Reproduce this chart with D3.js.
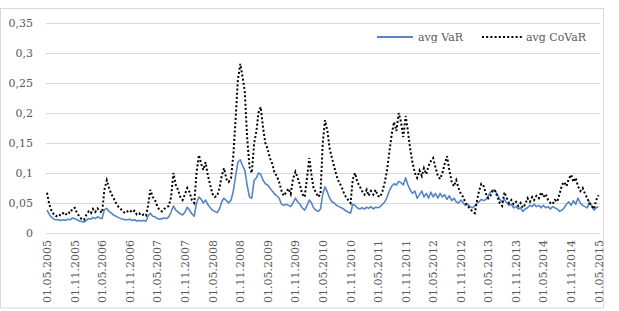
<!DOCTYPE html>
<html><head><meta charset="utf-8">
<script src="https://cdn.jsdelivr.net/npm/d3@7"></script>
<style>body{margin:0;background:#fff}svg{display:block}</style>
</head><body><svg id="c" width="619" height="311"></svg>
<script>
const startDate = "01.05.2005";
const yTicks = [0,0.05,0.1,0.15,0.2,0.25,0.3,0.35];
const xTickLabels = ["01.05.2005","01.11.2005","01.05.2006","01.11.2006","01.05.2007","01.11.2007","01.05.2008","01.11.2008","01.05.2009","01.11.2009","01.05.2010","01.11.2010","01.05.2011","01.11.2011","01.05.2012","01.11.2012","01.05.2013","01.11.2013","01.05.2014","01.11.2014","01.05.2015"];
const seriesNames = ["avg VaR","avg CoVaR"];
// semi-monthly observations
const avgCoVaR = [
.067,.048,.036,.031,.028,.031,.029,.033,.030,.035,.033,.040,
.042,.033,.028,.023,.022,.030,.036,.033,.040,.035,.041,.036,
.034,.072,.088,.075,.065,.058,.050,.044,.040,.036,.033,.036,
.038,.034,.037,.031,.033,.029,.031,.029,.045,.072,.060,.055,
.045,.038,.036,.040,.043,.045,.060,.100,.080,.072,.060,.055,
.065,.075,.068,.055,.050,.100,.130,.115,.105,.118,.095,.080,
.065,.060,.062,.075,.095,.108,.090,.085,.092,.130,.190,.255,
.282,.260,.235,.160,.110,.100,.150,.170,.200,.210,.175,.150,
.140,.125,.115,.100,.095,.085,.070,.062,.068,.074,.065,.090,
.102,.092,.080,.065,.060,.090,.125,.095,.075,.068,.060,.065,
.150,.188,.170,.140,.125,.110,.095,.085,.078,.068,.060,.055,
.050,.090,.100,.085,.078,.070,.064,.072,.062,.070,.064,.072,
.062,.060,.070,.085,.105,.135,.165,.185,.170,.200,.185,.160,
.195,.170,.140,.118,.100,.092,.104,.095,.108,.098,.112,.120,
.125,.110,.095,.090,.100,.115,.128,.105,.085,.078,.088,.075,
.065,.060,.050,.045,.040,.036,.033,.055,.070,.082,.078,.065,
.058,.062,.072,.070,.060,.050,.045,.068,.058,.050,.055,.048,
.052,.045,.050,.042,.048,.058,.052,.060,.055,.062,.058,.068,
.060,.065,.055,.050,.048,.055,.052,.065,.080,.085,.078,.090,
.097,.085,.092,.078,.070,.075,.065,.058,.050,.045,.040,.055,
.063];
const avgVaR = [
.038,.031,.026,.023,.022,.022,.021,.022,.021,.023,.022,.025,
.024,.022,.020,.019,.018,.021,.024,.023,.026,.024,.027,.025,
.024,.039,.041,.036,.033,.030,.028,.026,.024,.023,.022,.022,
.023,.021,.022,.020,.021,.020,.021,.020,.028,.033,.028,.027,
.024,.023,.024,.025,.024,.027,.035,.045,.038,.035,.032,.030,
.035,.043,.038,.032,.028,.050,.060,.056,.050,.055,.047,.042,
.038,.036,.034,.040,.052,.058,.054,.050,.055,.070,.095,.118,
.122,.112,.105,.080,.060,.058,.088,.092,.100,.098,.088,.082,
.080,.075,.070,.065,.062,.058,.048,.046,.048,.046,.044,.050,
.058,.052,.048,.042,.038,.045,.055,.050,.042,.038,.036,.040,
.065,.077,.068,.058,.052,.050,.046,.044,.042,.040,.037,.035,
.033,.048,.046,.042,.040,.042,.040,.043,.041,.044,.040,.043,
.042,.044,.048,.052,.060,.070,.078,.082,.080,.086,.084,.080,
.092,.080,.072,.066,.070,.058,.064,.070,.060,.066,.058,.068,
.060,.066,.058,.066,.060,.064,.056,.062,.054,.058,.052,.050,
.055,.050,.046,.048,.044,.042,.045,.050,.052,.056,.054,.056,
.062,.068,.072,.070,.064,.056,.052,.056,.050,.046,.048,.042,
.044,.040,.042,.036,.040,.042,.046,.044,.048,.044,.046,.042,
.046,.042,.044,.040,.044,.042,.040,.036,.038,.042,.048,.052,
.046,.054,.048,.058,.050,.046,.044,.042,.052,.046,.038,.042,
.044];

const parse = d3.timeParse("%d.%m.%Y");
const t0 = parse(startDate);
const dates = avgVaR.map((d,i)=> d3.timeDay.offset(d3.timeMonth.offset(t0, Math.floor(i/2)), (i%2)*15));

const svg = d3.select("#c");
const x = d3.scaleTime().domain([t0, parse(xTickLabels[xTickLabels.length-1])]).range([47, 598.5]);
const y = d3.scaleLinear().domain([0,0.35]).range([233,23]);
const fmt = v => d3.format("")(+v.toFixed(2)).replace(".",",");
const font = "DejaVu Serif";

svg.append("rect").attr("x",0.5).attr("y",8.5).attr("width",603).attr("height",299.5)
  .attr("fill","#fff").attr("stroke","#d9d9d9");

svg.append("g").selectAll("line").data(yTicks).join("line")
  .attr("x1",46).attr("x2",600).attr("y1",d=>Math.round(y(d))+0.5).attr("y2",d=>Math.round(y(d))+0.5)
  .attr("stroke","#d9d9d9").attr("stroke-width",1);

svg.append("g").selectAll("text").data(yTicks).join("text")
  .attr("x",33).attr("y",d=>y(d)+4).attr("text-anchor","end")
  .attr("font-family",font).attr("font-size",11).attr("fill","#595959").text(fmt);

svg.append("g").selectAll("text").data(xTickLabels).join("text")
  .attr("transform",d=>`translate(${x(parse(d))+4},240) rotate(-90)`)
  .attr("text-anchor","end").attr("font-family",font).attr("font-size",11).attr("fill","#595959").text(d=>d);

const line = v => d3.line().x((d,i)=>x(dates[i])).y(d=>y(d))(v);

svg.append("path").attr("d",line(avgVaR)).attr("fill","none").attr("stroke","#5585c5").attr("stroke-width",1.6).attr("stroke-linejoin","round");
svg.append("path").attr("d",line(avgCoVaR)).attr("fill","none").attr("stroke","#000").attr("stroke-width",2)
  .attr("stroke-dasharray","2,2.2");

// legend
svg.append("line").attr("x1",377).attr("x2",413).attr("y1",37).attr("y2",37).attr("stroke","#5585c5").attr("stroke-width",2);
svg.append("text").attr("x",418).attr("y",41).attr("font-family",font).attr("font-size",11).attr("fill","#595959").text(seriesNames[0]);
svg.append("line").attr("x1",482).attr("x2",522).attr("y1",37).attr("y2",37).attr("stroke","#000").attr("stroke-width",2).attr("stroke-dasharray","2,2.2");
svg.append("text").attr("x",526).attr("y",41).attr("font-family",font).attr("font-size",11).attr("fill","#595959").text(seriesNames[1]);
</script></body></html>
